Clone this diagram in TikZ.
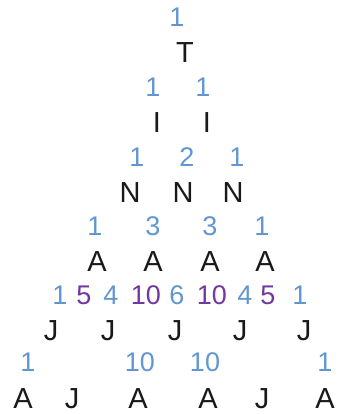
\documentclass[tikz,border=0pt]{standalone}
\usepackage{fontspec}
\setmainfont{Liberation Sans}
\definecolor{nblue}{RGB}{98,150,208}
\definecolor{npurple}{RGB}{112,56,160}
\tikzset{
  lt/.style={anchor=base,inner sep=0pt,font=\fontsize{29}{29}\selectfont,text=black!90},
  nb/.style={anchor=base,inner sep=0pt,font=\fontsize{27}{27}\selectfont,text=nblue},
  np/.style={nb,text=npurple}
}
\begin{document}
\begin{tikzpicture}[x=1pt,y=-1pt]
\useasboundingbox (0,0) rectangle (339,414);
% row 0
\node[nb] (n00) at (177,27) {1};
\node[lt] (l00) at (185,63) {T};
% row 1
\node[nb] (n10) at (153,97) {1};
\node[nb] (n11) at (203,97) {1};
\node[lt] (l10) at (157,133) {I};
\node[lt] (l11) at (207,133) {I};
% row 2
\node[nb] (n20) at (137,166) {1};
\node[nb] (n21) at (187,166) {2};
\node[nb] (n22) at (237,166) {1};
\node[lt] (l20) at (130,202) {N};
\node[lt] (l21) at (183,202) {N};
\node[lt] (l22) at (233,202) {N};
% row 3
\node[nb] (n30) at (95,235) {1};
\node[nb] (n31) at (153,235) {3};
\node[nb] (n32) at (210,235) {3};
\node[nb] (n33) at (262,235) {1};
\node[lt] (l30) at (97,271) {A};
\node[lt] (l31) at (153,271) {A};
\node[lt] (l32) at (210,271) {A};
\node[lt] (l33) at (265,271) {A};
% row 4
\node[nb] (n40) at (60,304) {1};
\node[np] (n41) at (84,304) {5};
\node[nb] (n42) at (111,304) {4};
\node[np] (n43) at (146,304) {10};
\node[nb] (n44) at (177,304) {6};
\node[np] (n45) at (212,304) {10};
\node[nb] (n46) at (245,304) {4};
\node[np] (n47) at (268,304) {5};
\node[nb] (n48) at (300,304) {1};
\node[lt] (l40) at (51,340) {J};
\node[lt] (l41) at (108,340) {J};
\node[lt] (l42) at (175,340) {J};
\node[lt] (l43) at (240,340) {J};
\node[lt] (l44) at (304,340) {J};
% row 5
\node[nb] (n50) at (28,371) {1};
\node[nb] (n51) at (140,371) {10};
\node[nb] (n52) at (205,371) {10};
\node[nb] (n53) at (325,371) {1};
\node[lt] (l50) at (23,408) {A};
\node[lt] (l51) at (72,408) {J};
\node[lt] (l52) at (138,408) {A};
\node[lt] (l53) at (208,408) {A};
\node[lt] (l54) at (262,408) {J};
\node[lt] (l55) at (325,408) {A};
\end{tikzpicture}
\end{document}
